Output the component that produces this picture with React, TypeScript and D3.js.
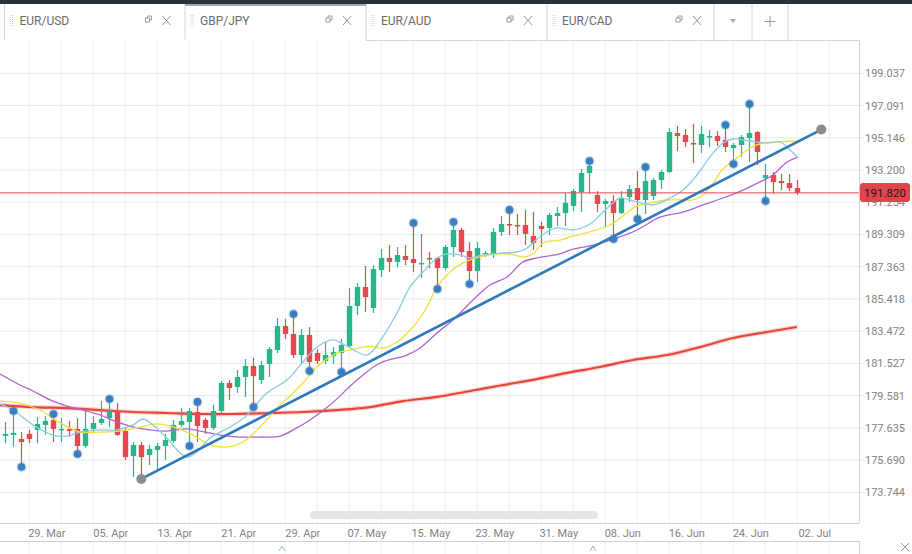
import React, { useEffect, useRef } from 'react'
import * as d3 from 'd3'

// daily candles: open, high, low, close
const candles: number[][] = [
  [177.15, 177.99, 176.72, 177.27], [177.21, 178.65, 176.48, 177.33], [176.96, 177.39, 175.27, 176.78],
  [177.27, 177.51, 176.72, 176.96], [177.51, 178.29, 176.72, 177.87], [177.81, 178.35, 177.21, 178.05],
  [178.11, 178.47, 176.78, 177.57], [177.51, 178.23, 176.78, 177.57], [177.57, 178.05, 177.09, 177.45],
  [177.57, 178.23, 176.06, 176.54], [176.54, 178.83, 176.42, 177.57], [177.57, 178.35, 177.33, 177.93],
  [177.93, 179.26, 177.81, 178.17], [178.23, 179.38, 177.69, 178.65], [178.65, 179.14, 177.15, 177.21],
  [177.45, 177.63, 175.69, 175.87], [175.93, 176.78, 174.67, 176.6], [176.6, 176.78, 174.55, 175.87],
  [175.99, 176.6, 175.39, 176.36], [176.3, 176.72, 175.09, 176.54], [176.54, 177.27, 175.69, 176.9],
  [176.84, 178.11, 176.72, 177.81], [177.81, 178.83, 177.69, 178.05], [177.99, 178.83, 176.54, 178.65],
  [178.59, 179.2, 176.78, 177.75], [178.11, 178.23, 177.27, 177.63], [177.63, 179.02, 177.51, 178.65],
  [178.65, 180.46, 178.53, 180.34], [180.34, 180.52, 179.32, 180.04], [180.1, 181.13, 179.74, 180.7],
  [180.7, 181.79, 179.5, 181.37], [181.37, 181.85, 178.89, 180.76], [180.52, 181.67, 180.28, 181.43],
  [181.49, 182.51, 180.7, 182.39], [182.33, 184.27, 182.15, 183.78], [183.78, 184.21, 183.0, 183.3],
  [183.3, 184.51, 181.85, 182.03], [182.03, 183.6, 181.55, 183.24], [183.24, 183.72, 181.07, 181.61],
  [182.15, 182.39, 181.49, 181.67], [181.67, 182.82, 181.49, 182.03], [181.97, 182.51, 181.49, 182.21],
  [182.15, 183.0, 181.01, 182.63], [182.57, 186.08, 182.51, 184.99], [184.99, 186.38, 184.45, 186.14],
  [186.14, 187.4, 184.63, 185.53], [184.87, 187.46, 184.57, 187.22], [187.16, 188.43, 186.74, 187.89],
  [187.89, 188.67, 187.04, 187.65], [187.65, 188.55, 187.34, 188.07], [188.01, 188.67, 187.46, 187.77],
  [187.83, 190.0, 187.04, 187.59], [187.53, 189.34, 186.68, 187.59], [187.89, 188.25, 187.28, 187.83],
  [187.89, 187.95, 186.02, 187.28], [187.28, 188.67, 187.16, 188.55], [188.55, 190.06, 187.95, 189.58],
  [189.58, 189.7, 187.95, 188.25], [188.31, 188.85, 186.32, 187.1], [187.1, 188.85, 186.44, 188.49],
  [188.13, 188.31, 187.95, 188.19], [188.13, 189.7, 187.89, 189.46], [189.46, 190.42, 189.22, 189.94],
  [189.94, 190.79, 189.28, 189.88], [189.88, 190.54, 189.28, 189.82], [189.88, 190.79, 188.67, 189.34],
  [189.22, 190.66, 188.37, 188.79], [189.82, 190.06, 188.55, 189.64], [189.7, 190.6, 189.28, 190.48],
  [190.42, 190.97, 189.82, 190.6], [190.6, 191.81, 189.82, 191.21], [191.03, 192.05, 190.72, 191.93],
  [191.87, 193.26, 190.66, 193.02], [193.02, 193.74, 191.75, 193.44], [191.69, 191.93, 190.66, 191.15],
  [191.15, 191.45, 189.76, 191.33], [191.33, 191.69, 189.03, 190.6], [190.6, 191.93, 190.54, 191.51],
  [191.57, 192.29, 191.27, 192.05], [192.11, 193.14, 190.24, 191.39], [191.39, 193.38, 190.54, 192.53],
  [191.63, 192.72, 191.39, 192.6], [192.6, 193.2, 192.05, 193.08], [193.08, 195.73, 193.02, 195.49],
  [195.43, 195.86, 194.35, 195.25], [195.31, 195.67, 194.59, 194.89], [194.83, 195.98, 193.62, 194.77],
  [194.71, 195.86, 194.23, 195.37], [195.19, 195.61, 194.59, 195.25], [195.25, 195.55, 194.65, 194.95],
  [195.01, 195.92, 194.29, 194.59], [194.53, 194.83, 193.56, 194.71], [194.71, 195.31, 193.98, 195.19],
  [195.13, 197.18, 193.68, 195.43], [195.49, 195.55, 193.5, 194.29], [192.72, 193.56, 191.33, 192.9],
  [192.9, 193.08, 191.75, 192.47], [192.53, 192.96, 191.99, 192.41], [192.41, 192.96, 191.93, 192.11],
  [192.11, 192.6, 191.69, 191.82]
]

const fractalHighs = [1, 6, 13, 24, 36, 51, 56, 63, 73, 80, 90, 93]
const fractalLows = [2, 9, 23, 31, 38, 42, 54, 58, 76, 79, 91, 95]

// moving averages as [candle index, price]
const maFast: number[][] = [
  [-0.66, 179.07], [0.96, 178.71], [3.46, 177.81], [5.96, 177.2], [7.71, 177.14], [9.34, 177.38],
  [11.84, 177.51], [13.96, 177.51], [15.96, 177.81], [17.21, 178.17], [18.46, 177.81], [20.21, 177.02],
  [21.84, 176.12], [22.71, 175.87], [23.96, 176.18], [25.59, 177.02], [28.09, 177.69], [29.96, 178.29],
  [32.71, 179.74], [35.21, 180.52], [37.21, 181.61], [38.96, 182.51], [40.96, 182.94], [42.71, 182.57],
  [45.21, 182.03], [47.09, 183.06], [48.96, 184.57], [50.59, 186.14], [52.21, 187.04], [53.96, 187.89],
  [55.21, 188.13], [56.84, 188.07], [58.09, 187.89], [59.71, 188.07], [62.21, 188.19], [63.96, 188.25],
  [65.21, 188.49], [66.46, 189.03], [67.71, 189.46], [68.96, 189.7], [70.96, 189.58], [73.09, 189.94],
  [74.71, 190.66], [75.96, 191.21], [76.84, 191.51], [78.96, 191.27], [80.96, 191.09], [83.09, 191.51],
  [84.71, 191.99], [86.46, 192.9], [88.09, 193.99], [89.71, 194.83], [90.96, 195.07], [93.09, 194.95],
  [95.21, 194.83], [96.84, 194.89], [98.09, 194.41], [99.09, 193.92]
]
const maMid: number[][] = [
  [-0.66, 179.25], [1.84, 179.13], [4.34, 178.71], [6.84, 177.93], [9.34, 177.38], [11.84, 177.38],
  [14.34, 177.44], [16.84, 177.69], [18.96, 177.87], [20.96, 177.69], [23.46, 177.2], [25.59, 176.6],
  [27.71, 176.48], [29.71, 176.78], [31.84, 177.69], [33.96, 178.83], [35.59, 179.56], [37.21, 180.34],
  [39.34, 181.49], [41.46, 182.15], [43.09, 182.33], [45.59, 182.57], [47.21, 182.45], [48.96, 182.82],
  [50.96, 183.72], [52.71, 184.93], [53.96, 186.14], [55.59, 187.04], [57.21, 187.59], [59.34, 187.95],
  [61.46, 188.13], [63.09, 188.13], [64.71, 187.95], [65.96, 188.13], [67.21, 188.79], [69.34, 188.97],
  [70.59, 189.16], [73.09, 189.46], [75.59, 189.88], [77.21, 190.42], [78.96, 191.03], [80.59, 191.21],
  [82.71, 191.39], [84.71, 191.39], [85.96, 191.39], [87.21, 191.69], [88.46, 192.41], [89.71, 193.26],
  [91.46, 193.92], [93.09, 194.53], [94.71, 194.83], [96.46, 194.89], [98.96, 194.95]
]
const maSlow: number[][] = [
  [-0.66, 180.88], [1.84, 180.22], [3.46, 179.86], [5.59, 179.32], [7.71, 178.95], [10.21, 178.65],
  [11.84, 178.41], [13.96, 177.99], [15.96, 177.69], [18.09, 177.51], [20.21, 177.44], [22.71, 177.57],
  [24.34, 177.44], [26.84, 177.2], [29.34, 177.08], [31.84, 177.08], [34.34, 177.14], [36.21, 177.57],
  [38.09, 178.11], [40.59, 179.01], [43.96, 180.52], [46.84, 181.55], [50.21, 182.03], [51.84, 182.45],
  [53.96, 183.36], [55.96, 184.15], [58.46, 185.35], [60.59, 186.26], [62.71, 186.74], [64.71, 187.65],
  [66.46, 187.89], [69.34, 188.13], [70.59, 188.37], [73.46, 188.67], [76.46, 189.1], [78.96, 189.58],
  [81.84, 190.36], [84.71, 190.66], [87.21, 191.09], [89.71, 191.51], [92.21, 191.99], [94.34, 192.48],
  [95.96, 192.9], [97.71, 193.68], [99.09, 193.98]
]
const maLong: number[][] = [
  [-0.66, 179.01], [3.46, 178.89], [7.71, 178.83], [11.84, 178.71], [15.96, 178.59], [20.21, 178.53],
  [24.34, 178.47], [28.46, 178.47], [33.09, 178.53], [37.21, 178.59], [41.46, 178.71], [45.59, 178.89],
  [49.71, 179.25], [53.96, 179.5], [58.09, 179.86], [62.21, 180.22], [66.46, 180.58], [70.21, 180.95],
  [74.34, 181.31], [78.46, 181.73], [82.71, 182.03], [86.84, 182.51], [90.96, 183.06], [95.21, 183.42],
  [98.96, 183.72]
]

const trendLine = [[17, 174.55], [102, 195.64]]
const lastPrice = 191.82

const yTicks = [173.744, 175.69, 177.635, 179.581, 181.527, 183.472, 185.418, 187.363, 189.309, 191.254, 193.2, 195.146, 197.091, 199.037]
const xTickIdx = [5, 13, 21, 29, 37, 45, 53, 61, 69, 77, 85, 93, 101]
const xTickLabels = ['29. Mar', '05. Apr', '13. Apr', '21. Apr', '29. Apr', '07. May', '15. May', '23. May', '31. May', '08. Jun', '16. Jun', '24. Jun', '02. Jul']
const tabs = ['EUR/USD', 'GBP/JPY', 'EUR/AUD', 'EUR/CAD']

const UP = '#2bb38a'
const DOWN = '#e5484f'
const FONT = 'Roboto, "Liberation Sans", sans-serif'

export default function App() {
  const ref = useRef<SVGSVGElement>(null)

  useEffect(() => {
    const svg = d3.select(ref.current)
    svg.selectAll('*').remove()

    const left = 0, right = 859, top = 40, bottom = 523
    const x = d3.scaleLinear().domain([0, 99]).range([5.3, 797.3])
    const y = d3.scaleLinear().domain([173.744, 199.037]).range([492.3, 73.3])

    svg.append('rect').attr('width', 912).attr('height', 554).attr('fill', '#fff')

    // tab strip
    svg.append('rect').attr('width', 912).attr('height', 4).attr('fill', '#2b303b')
    const tabEdges = [4.5, 185, 366, 547, 714, 752, 788]
    tabEdges.forEach(e => {
      svg.append('line').attr('x1', e).attr('x2', e).attr('y1', 4).attr('y2', 40)
        .attr('stroke', '#d4d6d9')
    })
    svg.append('rect').attr('x', 185).attr('y', 4).attr('width', 181).attr('height', 2).attr('fill', '#a4a6a8')
    svg.append('line').attr('x1', 366).attr('x2', right).attr('y1', 40.5).attr('y2', 40.5).attr('stroke', '#d4d6d9')
    tabs.forEach((t, i) => {
      const x0 = tabEdges[i]
      const g = svg.append('g').attr('transform', `translate(${x0},0)`)
      g.append('line').attr('x1', 6).attr('x2', 6).attr('y1', 15).attr('y2', 27)
        .attr('stroke', '#cfcfcf').attr('stroke-dasharray', '1,1')
      g.append('line').attr('x1', 8).attr('x2', 8).attr('y1', 15).attr('y2', 27)
        .attr('stroke', '#cfcfcf').attr('stroke-dasharray', '1,1')
      g.append('text').attr('x', 15).attr('y', 25).text(t)
        .attr('font-family', FONT).attr('font-size', 12).attr('fill', '#6a6a6a')
      const ix = i === 3 ? 129 : 141
      g.append('rect').attr('x', ix).attr('y', 18).attr('width', 4).attr('height', 4)
        .attr('fill', 'none').attr('stroke', '#888').attr('stroke-width', 0.8)
      g.append('path').attr('d', `M${ix + 2},18 V16 H${ix + 6} V20 H${ix + 4}`)
        .attr('fill', 'none').attr('stroke', '#888').attr('stroke-width', 0.8)
      const cx = i === 3 ? 150 : 162
      g.append('path').attr('d', `M${cx - 4},16 L${cx + 4},25 M${cx + 4},16 L${cx - 4},25`)
        .attr('stroke', '#888').attr('stroke-width', 0.9)
    })
    svg.append('path').attr('d', 'M730,19 L736,19 L733,23 Z').attr('fill', '#aaa')
    svg.append('path').attr('d', 'M770,16 V27 M764.5,21.5 H775.5').attr('stroke', '#999').attr('stroke-width', 1)

    // grid
    const grid = svg.append('g')
    const vIdx = d3.range(3, 107, 4)
    vIdx.forEach(i => {
      grid.append('line').attr('x1', x(i)).attr('x2', x(i)).attr('y1', top).attr('y2', bottom)
        .attr('stroke', '#ebedef')
      grid.append('line').attr('x1', x(i)).attr('x2', x(i)).attr('y1', 541).attr('y2', 554)
        .attr('stroke', '#ebedef')
    })
    yTicks.forEach(v => {
      grid.append('line').attr('x1', left).attr('x2', 864).attr('y1', y(v)).attr('y2', y(v))
        .attr('stroke', '#e8eaec')
    })
    svg.append('line').attr('x1', right + 0.5).attr('x2', right + 0.5).attr('y1', top).attr('y2', bottom)
      .attr('stroke', '#ccd0d4')
    svg.append('line').attr('x1', left).attr('x2', right).attr('y1', bottom + 0.5).attr('y2', bottom + 0.5)
      .attr('stroke', '#ccd0d4')
    svg.append('line').attr('x1', left).attr('x2', right).attr('y1', 541.5).attr('y2', 541.5)
      .attr('stroke', '#ccd0d4')
    svg.append('line').attr('x1', right + 0.5).attr('x2', right + 0.5).attr('y1', 541).attr('y2', 554)
      .attr('stroke', '#ccd0d4')

    // scrollbar
    svg.append('rect').attr('x', 310).attr('y', 511).attr('width', 288).attr('height', 8).attr('rx', 4)
      .attr('fill', '#e5e6e9')

    svg.append('defs').append('clipPath').attr('id', 'plot')
      .append('rect').attr('x', left).attr('y', top).attr('width', right - left).attr('height', bottom - top)
    const plot = svg.append('g').attr('clip-path', 'url(#plot)')

    const line = d3.line<number[]>().x(d => x(d[0])).y(d => y(d[1])).curve(d3.curveCatmullRom)

    plot.append('path').datum(maLong).attr('d', line).attr('fill', 'none')
      .attr('stroke', '#ee5a4f').attr('stroke-opacity', 0.25).attr('stroke-width', 4.5)
    plot.append('path').datum(maLong).attr('d', line).attr('fill', 'none')
      .attr('stroke', '#e8453c').attr('stroke-width', 2.2)

    // candles
    const cg = plot.append('g')
    candles.forEach((c, i) => {
      const [o, h, l, cl] = c
      const col = cl >= o ? UP : DOWN
      const cx = Math.round(x(i)) + 0.5
      cg.append('line').attr('x1', cx).attr('x2', cx).attr('y1', y(h)).attr('y2', y(l))
        .attr('stroke', col).attr('stroke-width', 1.2)
      const y0 = y(Math.max(o, cl))
      const hgt = Math.max(1.5, y(Math.min(o, cl)) - y0)
      cg.append('rect').attr('x', cx - 2.7).attr('y', y0).attr('width', 5.4).attr('height', hgt)
        .attr('fill', col)
    })

    plot.append('path').datum(maSlow).attr('d', line).attr('fill', 'none')
      .attr('stroke', '#b163d3').attr('stroke-width', 1.3)
    plot.append('path').datum(maMid).attr('d', line).attr('fill', 'none')
      .attr('stroke', '#f0e03c').attr('stroke-width', 1.3)
    plot.append('path').datum(maFast).attr('d', line).attr('fill', 'none')
      .attr('stroke', '#8ccbe3').attr('stroke-width', 1.3)

    // last price line
    plot.append('line').attr('x1', left).attr('x2', right).attr('y1', y(lastPrice)).attr('y2', y(lastPrice))
      .attr('stroke', DOWN).attr('stroke-width', 1)

    // trend line
    plot.append('path').datum(trendLine).attr('d', d3.line<number[]>().x(d => x(d[0])).y(d => y(d[1])))
      .attr('stroke', '#2f78bb').attr('stroke-width', 2.6).attr('fill', 'none')
    trendLine.forEach(d => {
      plot.append('circle').attr('cx', x(d[0])).attr('cy', y(d[1])).attr('r', 5).attr('fill', '#8c8c8c')
    })

    // fractal markers
    const dots = [
      ...fractalHighs.map(i => [i, candles[i][1]]),
      ...fractalLows.map(i => [i, candles[i][2]])
    ]
    dots.forEach(d => {
      plot.append('circle').attr('cx', Math.round(x(d[0])) + 0.5).attr('cy', y(d[1])).attr('r', 5)
        .attr('fill', '#3a7ec1').attr('fill-opacity', 0.3)
      plot.append('circle').attr('cx', Math.round(x(d[0])) + 0.5).attr('cy', y(d[1])).attr('r', 3.8)
        .attr('fill', '#3a7ec1')
    })

    // y axis labels
    yTicks.forEach(v => {
      svg.append('text').attr('x', 905).attr('y', y(v) + 4).attr('text-anchor', 'end')
        .attr('font-family', FONT).attr('font-size', 11).attr('fill', '#838383')
        .text(d3.format('.3f')(v))
    })
    svg.append('rect').attr('x', 860).attr('y', 183).attr('width', 50).attr('height', 19).attr('rx', 3)
      .attr('fill', '#e0454e')
    svg.append('text').attr('x', 885).attr('y', 196.5).attr('text-anchor', 'middle')
      .attr('font-family', FONT).attr('font-size', 11.5).attr('fill', '#2a1214')
      .text(d3.format('.3f')(lastPrice))

    // x axis labels
    xTickIdx.forEach((i, k) => {
      svg.append('text').attr('x', x(i) + 1.5).attr('y', 537).attr('text-anchor', 'middle')
        .attr('font-family', FONT).attr('font-size', 11).attr('fill', '#838383')
        .text(xTickLabels[k])
    })

    // navigator handles and close
    ;[279, 590].forEach(hx => {
      svg.append('path').attr('d', `M${hx},551 L${hx + 3},546 L${hx + 6},551`).attr('fill', 'none')
        .attr('stroke', '#7fb8e0').attr('stroke-width', 1)
    })
    svg.append('path').attr('d', 'M901,543 L909,551 M909,543 L901,551').attr('stroke', '#999').attr('stroke-width', 1)
  }, [])

  return (
    <svg ref={ref} width={912} height={554}
      style={{ position: 'absolute', left: 0, top: 0, display: 'block' }} />
  )
}
